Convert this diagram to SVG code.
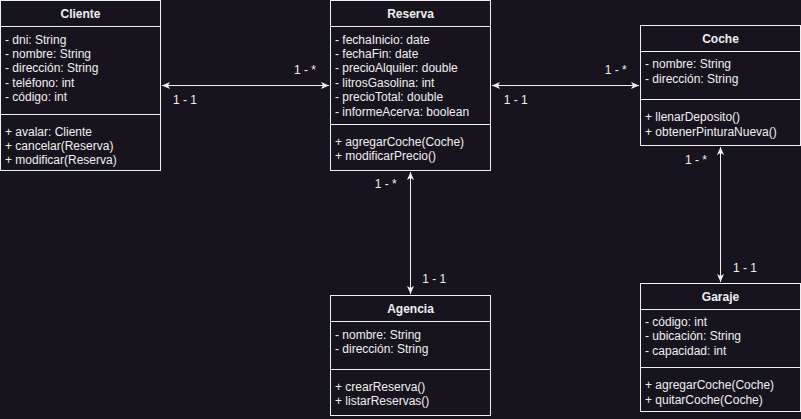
<svg xmlns="http://www.w3.org/2000/svg" width="801" height="419" viewBox="0 0 801 419">
<style>
.bg{fill:#18141d}
.box{fill:none;stroke:#f0f0f0;stroke-width:1}
.sep{stroke:#f0f0f0;stroke-width:1}
text{font-family:"Liberation Sans",Arial,sans-serif;font-size:12px;fill:#f0f0f0}
.title{font-weight:bold;text-anchor:middle}
.lbl{text-anchor:middle}
.conn{stroke:#f0f0f0;stroke-width:1;fill:none;marker-start:url(#arr);marker-end:url(#arr)}
</style>
<defs>
<marker id="arr" viewBox="0 0 8 8" refX="8" refY="4" markerWidth="8" markerHeight="8" markerUnits="userSpaceOnUse" orient="auto-start-reverse">
<path d="M0,0.5 L8,4 L0,7.5 L2,4 Z" fill="#f0f0f0"/>
</marker>
</defs>
<rect class="bg" x="0" y="0" width="801" height="419"/>

<g id="connectors">
<line class="conn" x1="162" y1="85.5" x2="329" y2="85.5"/>
<line class="conn" x1="492" y1="85.5" x2="639" y2="85.5"/>
<line class="conn" x1="410.5" y1="172" x2="410.5" y2="294"/>
<line class="conn" x1="720.5" y1="147" x2="720.5" y2="282"/>
<text class="lbl" x="305" y="73.5">1 - *</text>
<text class="lbl" x="185" y="104.3">1 - 1</text>
<text class="lbl" x="615.7" y="73.5">1 - *</text>
<text class="lbl" x="515.7" y="104.3">1 - 1</text>
<text class="lbl" x="385.7" y="187.6">1 - *</text>
<text class="lbl" x="434.3" y="282.6">1 - 1</text>
<text class="lbl" x="696" y="163.6">1 - *</text>
<text class="lbl" x="745" y="271.6">1 - 1</text>
</g>

<g id="cliente">
<rect class="box" x="0.5" y="0.5" width="160" height="170"/>
<line class="sep" x1="0.5" y1="26.5" x2="160.5" y2="26.5"/>
<line class="sep" x1="0.5" y1="114.5" x2="160.5" y2="114.5"/>
<text class="title" x="80.5" y="18">Cliente</text>
<text x="5" y="43.5">- dni: String</text>
<text x="5" y="57.9">- nombre: String</text>
<text x="5" y="72.3">- dirección: String</text>
<text x="5" y="86.7">- teléfono: int</text>
<text x="5" y="101.1">- código: int</text>
<text x="5" y="135.5">+ avalar: Cliente</text>
<text x="5" y="149.9">+ cancelar(Reserva)</text>
<text x="5" y="164.3">+ modificar(Reserva)</text>
</g>

<g id="reserva">
<rect class="box" x="330.5" y="0.5" width="160" height="170"/>
<line class="sep" x1="330.5" y1="26.5" x2="490.5" y2="26.5"/>
<line class="sep" x1="330.5" y1="124.5" x2="490.5" y2="124.5"/>
<text class="title" x="410.5" y="18">Reserva</text>
<text x="335" y="43.5">- fechaInicio: date</text>
<text x="335" y="57.9">- fechaFin: date</text>
<text x="335" y="72.3">- precioAlquiler: double</text>
<text x="335" y="86.7">- litrosGasolina: int</text>
<text x="335" y="101.1">- precioTotal: double</text>
<text x="335" y="115.5">- informeAcerva: boolean</text>
<text x="335" y="145.8">+ agregarCoche(Coche)</text>
<text x="335" y="160.2">+ modificarPrecio()</text>
</g>

<g id="coche">
<rect class="box" x="640.5" y="25.5" width="160" height="120"/>
<line class="sep" x1="640.5" y1="51.5" x2="800.5" y2="51.5"/>
<line class="sep" x1="640.5" y1="99.5" x2="800.5" y2="99.5"/>
<text class="title" x="720.5" y="42.5">Coche</text>
<text x="645" y="68.3">- nombre: String</text>
<text x="645" y="82.7">- dirección: String</text>
<text x="645" y="121.3">+ llenarDeposito()</text>
<text x="645" y="135.7">+ obtenerPinturaNueva()</text>
</g>

<g id="agencia">
<rect class="box" x="330.5" y="295.5" width="160" height="120"/>
<line class="sep" x1="330.5" y1="321.5" x2="490.5" y2="321.5"/>
<line class="sep" x1="330.5" y1="369.5" x2="490.5" y2="369.5"/>
<text class="title" x="410.5" y="313">Agencia</text>
<text x="335" y="339">- nombre: String</text>
<text x="335" y="353.4">- dirección: String</text>
<text x="335" y="390.8">+ crearReserva()</text>
<text x="335" y="405.2">+ listarReservas()</text>
</g>

<g id="garaje">
<rect class="box" x="640.5" y="283.5" width="160" height="128"/>
<line class="sep" x1="640.5" y1="309.5" x2="800.5" y2="309.5"/>
<line class="sep" x1="640.5" y1="367.5" x2="800.5" y2="367.5"/>
<text class="title" x="720.5" y="301">Garaje</text>
<text x="645" y="326">- código: int</text>
<text x="645" y="340.4">- ubicación: String</text>
<text x="645" y="354.8">- capacidad: int</text>
<text x="645" y="389.4">+ agregarCoche(Coche)</text>
<text x="645" y="403.8">+ quitarCoche(Coche)</text>
</g>
</svg>
